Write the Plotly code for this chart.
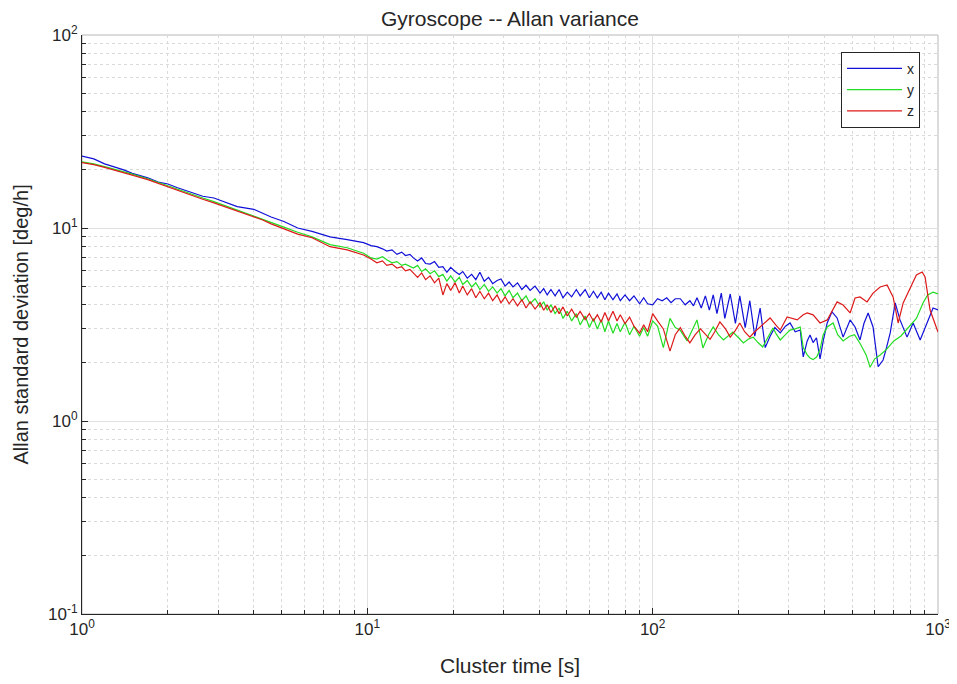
import plotly.graph_objects as go

# Cluster times shared by the three axes up to 100 s
tau_lo = [1.0, 1.1, 1.2, 1.3, 1.4, 1.5, 1.7, 1.85, 2.0, 2.15, 2.4, 2.65, 2.9, 3.2, 3.5, 4.0, 4.3, 4.6,
          5.1, 5.7, 6.4, 7.4, 8.5, 9.7, 10.3, 10.8, 11.3, 11.7, 12.2, 12.7, 13.2, 13.6, 14.1, 14.5,
          15.0, 15.5, 16.0, 16.6, 17.2, 17.8, 18.4, 19.0, 19.6, 20.3, 21.0, 21.6, 22.4, 23.2, 24.0,
          24.8, 25.7, 26.6, 27.5, 28.5, 29.4, 30.4, 31.4, 32.4, 33.6, 34.8, 36.0, 37.2, 38.7, 40.3,
          41.5, 42.7, 44.0, 45.5, 47.0, 48.5, 50.2, 52, 54, 55.7, 58, 60, 62, 64, 66, 68, 70, 72.6,
          75, 77, 80, 83, 86, 90, 93, 96, 100]

sd_x_lo = [23.6, 22.8, 21.5, 20.8, 20.0, 19.2, 18.2, 17.3, 16.9, 16.2, 15.4, 14.6, 14.3, 13.5, 12.9, 12.5, 11.9, 11.4,
           10.8, 10.0, 9.6, 9.0, 8.7, 8.4, 8.1, 8.0, 7.8, 7.6, 7.7, 7.3, 7.5, 7.2, 7.3, 7.0,
           6.75, 7.0, 6.55, 6.5, 6.7, 6.25, 6.3, 5.9, 6.25, 5.95, 5.75, 5.95, 5.5, 5.75, 5.4,
           5.9, 5.3, 5.55, 5.15, 5.35, 5.45, 5.0, 5.25, 4.95, 5.2, 4.8, 5.05, 4.75, 5.0, 4.6,
           4.85, 4.5, 4.8, 4.45, 4.8, 4.35, 4.65, 4.4, 4.8, 4.45, 4.8, 4.35, 4.7, 4.35, 4.65, 4.25, 4.6, 4.25,
           4.55, 4.2, 4.5, 4.2, 4.45, 4.05, 4.35, 4.05, 4.0]
sd_y_lo = [22.0, 21.5, 20.8, 20.2, 19.6, 19.0, 18.0, 17.2, 16.5, 15.9, 15.0, 14.3, 13.7, 13.0, 12.4, 11.6, 11.1, 10.7,
           10.1, 9.5, 9.0, 8.2, 7.9, 7.4, 7.0, 6.9, 7.1, 6.85, 6.6, 6.7, 6.4, 6.5, 6.3, 6.2,
           6.4, 5.95, 6.15, 5.8, 6.0, 5.6, 5.75, 5.3, 5.65, 5.25, 5.55, 5.1, 5.35, 4.95, 5.2,
           4.8, 5.1, 4.7, 4.95, 4.6, 4.85, 4.45, 4.75, 4.35, 4.6, 4.2, 4.45, 4.05, 4.3, 3.9,
           4.15, 3.75, 4.0, 3.6, 3.85, 3.4, 3.7, 3.3, 3.6, 3.15, 3.5, 3.05, 3.4, 3.0, 3.35, 2.9, 3.3, 2.85,
           3.2, 2.9, 3.25, 2.8, 3.1, 2.75, 3.05, 2.75, 3.3]
sd_z_lo = [21.8, 21.3, 20.6, 20.0, 19.4, 18.8, 17.8, 17.0, 16.3, 15.7, 14.9, 14.1, 13.5, 12.8, 12.2, 11.4, 11.0, 10.5,
           9.9, 9.3, 8.9, 8.0, 7.7, 7.25, 6.9, 6.6, 6.75, 6.4, 6.5, 6.2, 6.3, 6.0, 6.1, 5.85,
           5.55, 5.85, 5.4, 5.65, 5.2, 5.5, 4.5, 5.15, 4.75, 5.2, 4.6, 5.0, 4.5, 4.85, 4.35,
           4.7, 4.3, 4.6, 4.2, 4.5, 4.1, 4.4, 4.05, 4.3, 3.95, 4.25, 3.85, 4.15, 3.8, 4.1,
           3.75, 4.0, 3.65, 3.95, 3.6, 3.9, 3.5, 3.8, 3.45, 3.7, 3.35, 3.6, 3.3, 3.55, 3.25, 3.65, 3.3, 3.7,
           3.3, 3.55, 3.2, 3.45, 3.1, 2.85, 3.15, 2.9, 3.6]

# Long cluster times, per axis
tau_x_hi = [104, 108, 112, 116, 120, 125, 130, 135, 139, 143, 148, 153, 158, 163, 168, 174, 179, 187, 195,
            202, 211, 219, 228, 238, 248, 258, 268, 280, 292, 303, 316, 329, 337, 348, 356, 365, 375,
            386, 396, 409, 425, 443, 465, 492, 512, 533, 550, 569, 592, 617, 642, 660, 680, 708, 736,
            779, 818, 866, 916, 961, 1000]
sd_x_hi = [4.3, 4.2, 4.35, 4.1, 4.3, 4.3, 4.0, 4.2, 3.95, 4.35, 3.85, 4.45, 3.75, 4.5, 3.6, 4.6, 3.4, 4.55, 3.2,
           4.45, 3.05, 4.2, 2.75, 3.85, 2.4, 2.75, 3.05, 2.86, 3.1, 3.22, 2.9, 2.96, 2.15, 2.6, 2.79, 2.55, 2.7,
           2.1, 2.6, 3.22, 3.68, 3.42, 2.72, 3.34, 3.07, 2.63, 3.2, 3.63, 3.07, 1.91, 2.07, 2.4, 2.86, 4.09, 3.34,
           2.72, 3.22, 2.63, 3.22, 3.85, 3.76]

tau_y_hi = [104, 109, 115, 120, 125, 132, 143, 150, 157, 163, 170, 177, 184, 191, 200, 208, 216, 225, 234,
            243, 253, 264, 272, 280, 292, 303, 316, 329, 337, 348, 356, 365, 376, 386, 396, 409, 429,
            445, 465, 490, 510, 535, 560, 578, 600, 627, 660, 700, 740, 790, 840, 887, 920, 961, 1000]
sd_y_hi = [3.1, 2.4, 3.4, 3.05, 2.95, 2.6, 3.34, 2.39, 2.8, 3.07, 2.8, 2.63, 2.75, 2.89, 2.7, 2.54, 2.65, 2.72, 2.55,
           2.42, 2.7, 3.03, 2.8, 2.63, 2.8, 2.96, 3.0, 3.07, 2.4, 2.2, 2.12, 2.08, 2.15, 2.35, 2.8, 3.07, 3.22,
           2.8, 2.6, 2.75, 2.8, 2.5, 2.2, 1.9, 2.1, 2.2, 2.35, 2.6, 2.75, 3.05, 3.4, 4.1, 4.5, 4.65, 4.55]

tau_z_hi = [104, 109, 115, 120, 125, 130, 135, 141, 147, 153, 159, 165, 172, 180, 187, 195, 202, 210, 219,
            228, 238, 248, 258, 270, 280, 296, 310, 321, 337, 348, 365, 386, 409, 429, 443, 465, 492,
            512, 533, 564, 592, 627, 663, 696, 725, 755, 800, 840, 880, 901, 938, 1000]
sd_z_hi = [3.3, 3.0, 2.3, 2.8, 3.05, 2.75, 2.54, 2.8, 3.0, 2.8, 2.65, 2.9, 3.26, 3.0, 2.72, 2.95, 3.22, 2.9, 2.72,
           2.9, 3.07, 3.25, 3.42, 3.15, 2.96, 3.46, 3.4, 3.34, 3.55, 3.63, 3.55, 3.22, 3.34, 3.76, 4.14, 3.99, 3.63,
           4.34, 4.39, 4.14, 4.6, 4.95, 5.07, 4.39, 3.22, 4.09, 4.95, 5.71, 5.92, 5.57, 3.76, 2.89]

series_names = ["x", "y", "z"]
series_colors = ["#1010d8", "#22dd22", "#dd1a1a"]

x_tick_vals = [1, 10, 100, 1000]
x_tick_text = ["10<sup>0</sup>", "10<sup>1</sup>", "10<sup>2</sup>", "10<sup>3</sup>"]
y_tick_vals = [0.1, 1, 10, 100]
y_tick_text = ["10<sup>-1</sup>", "10<sup>0</sup>", "10<sup>1</sup>", "10<sup>2</sup>"]

tau_all = [tau_lo + tau_x_hi, tau_lo + tau_y_hi, tau_lo + tau_z_hi]
sd_all = [sd_x_lo + sd_x_hi, sd_y_lo + sd_y_hi, sd_z_lo + sd_z_hi]
for t, s in zip(tau_all, sd_all):
    assert len(t) == len(s), (len(t), len(s))

fig = go.Figure()
for name, color, t, s in zip(series_names, series_colors, tau_all, sd_all):
    fig.add_trace(go.Scatter(x=t, y=s, mode="lines", name=name,
                             line=dict(color=color, width=1.2)))

minor_x = [m * 10 ** d for d in range(3) for m in range(2, 10)]
minor_y = [m * 10 ** d for d in range(-1, 2) for m in range(2, 10)]

font_family = "Liberation Sans, Arial, sans-serif"
text_color = "#262626"
axis_common = dict(
    showline=True, linecolor=text_color, linewidth=1,
    ticks="inside", ticklen=6, tickcolor=text_color,
    showgrid=True, gridcolor="#e0e0e0", gridwidth=1,
    zeroline=False, mirror=False, automargin=False,
    tickfont=dict(family=font_family, size=17, color=text_color),
)
minor_common = dict(tickmode="array", ticks="inside", ticklen=4, tickcolor=text_color,
                    showgrid=True, gridcolor="#dadada", griddash="dot", gridwidth=1)

fig.update_xaxes(type="log", range=[0, 3], tickmode="array", tickvals=x_tick_vals, ticktext=x_tick_text,
                 minor=dict(tickvals=minor_x, **minor_common), **axis_common)
fig.update_yaxes(type="log", range=[-1, 2], tickmode="array", tickvals=y_tick_vals, ticktext=y_tick_text,
                 minor=dict(tickvals=minor_y, **minor_common), **axis_common)

fig.add_shape(type="rect", xref="paper", yref="paper", x0=0, y0=0, x1=1, y1=1,
              line=dict(color="#b8b8b8", width=1), layer="below")

fig.add_annotation(text="Cluster time [s]", xref="paper", yref="paper", x=0.5, y=0,
                   xanchor="center", yanchor="middle", yshift=-51, showarrow=False,
                   font=dict(family=font_family, size=21, color=text_color))
fig.add_annotation(text="Allan standard deviation [deg/h]", xref="paper", yref="paper", x=0, y=0.5,
                   xanchor="center", yanchor="middle", xshift=-62, textangle=-90, showarrow=False,
                   font=dict(family=font_family, size=20, color=text_color))

# The page body adds an 8 px offset, so the figure is 8 px smaller and shifted.
W, H = 949, 676
L, R, T, B = 74, 19, 27, 70
fig.update_layout(
    width=W, height=H,
    margin=dict(l=L, r=R, t=T, b=B),
    paper_bgcolor="white", plot_bgcolor="white",
    title=dict(text="Gyroscope -- Allan variance", x=(L + (W - R)) / 2 / W, xanchor="center",
               y=1 - 3 / H, yanchor="top", pad=dict(t=0, b=0),
               font=dict(family=font_family, size=21, color=text_color)),
    legend=dict(x=0.979, y=0.971, xanchor="right", yanchor="top",
                bgcolor="white", bordercolor=text_color, borderwidth=1,
                font=dict(family=font_family, size=14, color=text_color),
                tracegroupgap=0, itemwidth=55),
    showlegend=True,
)

fig.write_html("out.html")
